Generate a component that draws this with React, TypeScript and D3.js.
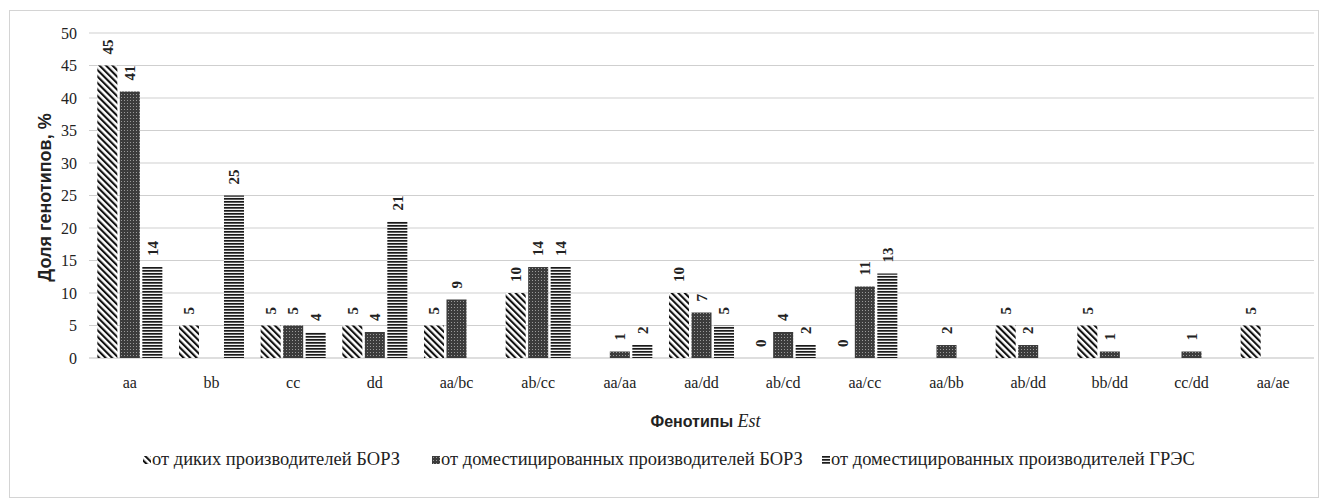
import React from 'react';
import * as d3 from 'd3';

const categories = ['aa', 'bb', 'cc', 'dd', 'aa/bc', 'ab/cc', 'aa/aa', 'aa/dd', 'ab/cd', 'aa/cc', 'aa/bb', 'ab/dd', 'bb/dd', 'cc/dd', 'aa/ae'];
const wildBorz: (number | null)[] = [45, 5, 5, 5, 5, 10, null, 10, 0, 0, null, 5, 5, null, 5];
const domBorz: (number | null)[] = [41, null, 5, 4, 9, 14, 1, 7, 4, 11, 2, 2, 1, 1, null];
const domGres: (number | null)[] = [14, 25, 4, 21, null, 14, 2, 5, 2, 13, null, null, null, null, null];
const seriesNames = [
  'от диких производителей БОРЗ',
  'от доместицированных производителей БОРЗ',
  'от доместицированных производителей ГРЭС',
];
const yTicks = [0, 5, 10, 15, 20, 25, 30, 35, 40, 45, 50];

const W = 1327;
const H = 502;
const plotLeft = 89;
const plotRight = 1314;
const plotTop = 33;
const plotBottom = 358;

const serif = "'Liberation Serif', 'Times New Roman', 'DejaVu Serif', serif";
const sans = "'Liberation Sans', Arial, sans-serif";

export default function App() {
  const series = [wildBorz, domBorz, domGres];
  const patterns = ['pWild', 'pDom', 'pGres'];
  const x0 = d3.scaleBand<string>().domain(categories).range([plotLeft, plotRight]).padding(0);
  const x1 = d3
    .scaleBand<number>()
    .domain([0, 1, 2])
    .range([0, x0.bandwidth()])
    .paddingInner(0.11)
    .paddingOuter(0.37);
  const y = d3.scaleLinear().domain([0, 50]).range([plotBottom, plotTop]);

  const legendX = [143, 432, 822];
  const serifStyle = { fontFamily: serif };
  const sansStyle = { fontFamily: sans };

  return (
    <svg width={W} height={H} style={{ position: 'absolute', left: 0, top: 0, background: '#fff' }}>
      <defs>
        <pattern id="pWild" width={4.6} height={4.6} patternUnits="userSpaceOnUse" patternTransform="rotate(-45)">
          <rect width={4.6} height={4.6} fill="#fff" />
          <rect x={0} y={0} width={2.1} height={4.6} fill="#111" />
        </pattern>
        <pattern id="pDom" width={3} height={3} patternUnits="userSpaceOnUse">
          <rect width={3} height={3} fill="#3c3c3c" />
          <rect x={1} y={1} width={1} height={1} fill="#9a9a9a" />
        </pattern>
        <pattern id="pGres" width={3} height={3} patternUnits="userSpaceOnUse">
          <rect width={3} height={3} fill="#f2f2f2" />
          <rect x={0} y={0} width={3} height={1.7} fill="#1a1a1a" />
        </pattern>
      </defs>
      <rect x={9.5} y={10.5} width={1309} height={487} fill="#fff" stroke="#d4d4d4" />

      {yTicks.map((t) => (
        <g key={t}>
          <line x1={plotLeft} x2={plotRight} y1={y(t)} y2={y(t)} stroke={t === 0 ? '#bdbdbd' : '#cfcfcf'} strokeWidth={1} />
          <text x={77} y={y(t)} dy="0.35em" textAnchor="end" style={serifStyle} fontSize={16} fill="#222">
            {t}
          </text>
        </g>
      ))}

      {categories.map((c, i) => (
        <g key={c}>
          {series.map((s, k) => {
            const v = s[i];
            if (v === null) return null;
            const bx = (x0(c) as number) + (x1(k) as number);
            const bw = x1.bandwidth();
            const top = y(v);
            const cx = bx + bw / 2;
            return (
              <g key={k}>
                {v > 0 && <rect x={bx} y={top} width={bw} height={plotBottom - top} fill={`url(#${patterns[k]})`} />}
                <text
                  transform={`translate(${cx},${top - 11}) rotate(-90)`}
                  dy="0.35em"
                  textAnchor="start"
                  style={serifStyle}
                  fontWeight="bold"
                  fontSize={15}
                  fill="#222"
                >
                  {v}
                </text>
              </g>
            );
          })}
          <text
            x={(x0(c) as number) + x0.bandwidth() / 2}
            y={388}
            textAnchor="middle"
            style={serifStyle}
            fontSize={16}
            fill="#222"
          >
            {c}
          </text>
        </g>
      ))}

      <text
        transform={`translate(45,${(plotTop + plotBottom) / 2 + 2}) rotate(-90)`}
        dy="0.35em"
        textAnchor="middle"
        style={sansStyle}
        fontWeight="bold"
        fontSize={18}
        fill="#222"
      >
        Доля генотипов, %
      </text>

      <text x={(plotLeft + plotRight) / 2 + 4} y={427} textAnchor="middle" fill="#222">
        <tspan style={sansStyle} fontWeight="bold" fontSize={16}>
          Фенотипы{' '}
        </tspan>
        <tspan style={serifStyle} fontStyle="italic" fontSize={18}>
          Est
        </tspan>
      </text>

      {seriesNames.map((n, k) => (
        <g key={n}>
          <rect x={legendX[k]} y={456} width={8} height={8} fill={`url(#${patterns[k]})`} />
          <text x={legendX[k] + 9} y={465} style={serifStyle} fontSize={18.5} fill="#222">
            {n}
          </text>
        </g>
      ))}
    </svg>
  );
}
